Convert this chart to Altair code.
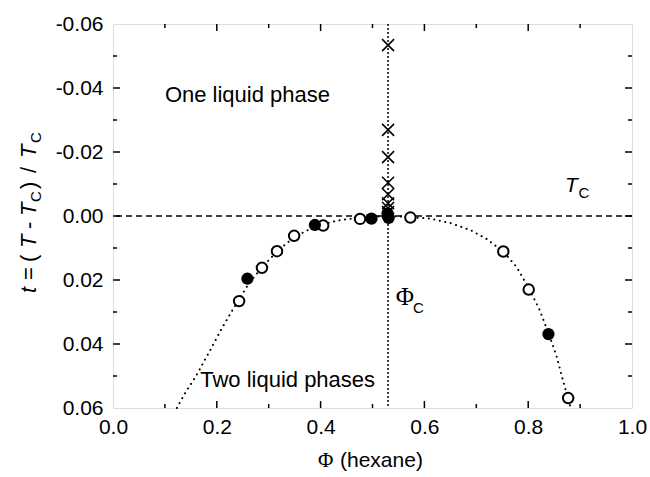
import altair as alt
import pandas as pd

# ---------------- data ----------------
cross_phi = [0.53, 0.53, 0.53, 0.53, 0.53, 0.53, 0.53, 0.53]
cross_t = [-0.0534, -0.0269, -0.0184, -0.0104, -0.0068, -0.0040, -0.0025, -0.0012]

open_phi = [0.243, 0.287, 0.316, 0.349, 0.405, 0.476, 0.573, 0.752, 0.801, 0.877]
open_t = [0.0266, 0.0162, 0.0110, 0.0062, 0.0030, 0.0009, 0.0005, 0.0111, 0.0230, 0.0569]

filled_phi = [0.259, 0.389, 0.498, 0.529, 0.530, 0.531, 0.839]
filled_t = [0.0196, 0.0028, 0.0008, -0.0008, 0.0000, 0.0006, 0.0369]

curve_phi = [0.123, 0.140, 0.160, 0.187, 0.210, 0.228, 0.245, 0.262, 0.290, 0.320,
             0.350, 0.390, 0.430, 0.470, 0.500, 0.530, 0.570, 0.610, 0.650, 0.690,
             0.720, 0.752, 0.778, 0.801, 0.821, 0.839, 0.855, 0.868, 0.882]
curve_t = [0.0600, 0.0550, 0.0500, 0.0420, 0.0350, 0.0300, 0.0255, 0.0210, 0.0155, 0.0105,
           0.0065, 0.0032, 0.0015, 0.0006, 0.0002, 0.0000, 0.0003, 0.0008, 0.0022, 0.0045,
           0.0072, 0.0111, 0.0160, 0.0225, 0.0290, 0.0365, 0.0440, 0.0520, 0.0600]

phi_c = [0.53]
t_zero = [0.0]

x_major = [0.2, 0.4, 0.6, 0.8]
x_minor = [0.1, 0.3, 0.5, 0.7, 0.9]
y_major = [-0.04, -0.02, 0.0, 0.02, 0.04]
y_minor = [-0.05, -0.03, -0.01, 0.01, 0.03, 0.05]
x_labels = [0.0, 0.2, 0.4, 0.6, 0.8, 1.0]
y_labels = [-0.06, -0.04, -0.02, 0.0, 0.02, 0.04, 0.06]

W, H = 519, 384
FONT = "Liberation Sans"
MAJ, MIN = 7, 4

xs = alt.Scale(domain=[0, 1], nice=False, zero=False)
ys = alt.Scale(domain=[-0.06, 0.06], nice=False, zero=False, reverse=True)

xax = alt.Axis(values=x_labels, format=".1f", tickSize=0, domain=False, grid=False,
               labelFontSize=21, labelFont=FONT, labelColor="black", labelPadding=8,
               labelFlush=False, labelOverlap=False, title=None)
yax = alt.Axis(values=y_labels, labelExpr="replace(format(datum.value, '.2f'), '\u2212', '-')",
               tickSize=0, domain=False, grid=False, labelFontSize=21, labelFont=FONT,
               labelColor="black", labelPadding=10, labelFlush=False, labelOverlap=False,
               title=None)

X = lambda f: alt.X(f, type="quantitative", scale=xs, axis=xax)
Y = lambda f: alt.Y(f, type="quantitative", scale=ys, axis=yax)

curve_df = pd.DataFrame({"phi": curve_phi, "t": curve_t, "i": list(range(len(curve_phi)))})
curve = alt.Chart(curve_df).mark_line(color="black", strokeWidth=2, strokeDash=[0.1, 5.5],
                                      strokeCap="round").encode(x=X("phi"), y=Y("t"), order="i:Q")

hline = alt.Chart(pd.DataFrame({"t": t_zero})).mark_rule(
    color="black", strokeWidth=1.5, strokeDash=[6, 4]).encode(y=Y("t"))
vline = alt.Chart(pd.DataFrame({"phi": phi_c})).mark_rule(
    color="black", strokeWidth=1.5, strokeDash=[2, 2]).encode(x=X("phi"))

crosses = alt.Chart(pd.DataFrame({"phi": cross_phi, "t": cross_t})).mark_point(
    shape="M-1,-1L1,1M-1,1L1,-1", size=144, strokeWidth=1.6, color="black", filled=False,
    opacity=1).encode(x=X("phi"), y=Y("t"))

opens = alt.Chart(pd.DataFrame({"phi": open_phi, "t": open_t})).mark_point(
    shape="circle", size=110, filled=True, fill="white", stroke="black", strokeWidth=2,
    opacity=1, fillOpacity=1).encode(x=X("phi"), y=Y("t"))

fills = alt.Chart(pd.DataFrame({"phi": filled_phi, "t": filled_t})).mark_point(
    shape="circle", size=150, filled=True, color="black", opacity=1).encode(x=X("phi"), y=Y("t"))

# inward ticks on four sides
xt = pd.DataFrame({"v": x_major + x_minor, "L": [MAJ] * len(x_major) + [MIN] * len(x_minor)})
yt = pd.DataFrame({"v": y_major + y_minor, "L": [MAJ] * len(y_major) + [MIN] * len(y_minor)})
xt["bot"] = H - xt["L"]
xt["top"] = xt["L"]
yt["left"] = yt["L"]
yt["right"] = W - yt["L"]

tick_style = dict(color="black", strokeWidth=1.5)
t_bot = alt.Chart(xt).mark_rule(**tick_style).encode(
    x=X("v"), y=alt.Y("bot:Q", scale=None), y2=alt.value(H))
t_top = alt.Chart(xt).mark_rule(**tick_style).encode(
    x=X("v"), y=alt.Y("top:Q", scale=None), y2=alt.value(0))
t_left = alt.Chart(yt).mark_rule(**tick_style).encode(
    y=Y("v"), x=alt.X("left:Q", scale=None), x2=alt.value(0))
t_right = alt.Chart(yt).mark_rule(**tick_style).encode(
    y=Y("v"), x=alt.X("right:Q", scale=None), x2=alt.value(W))

# annotations inside plot
def txt(text, phi, t, size=22, font=FONT, style="normal", align="left"):
    return alt.Chart(pd.DataFrame({"phi": [phi], "t": [t], "s": [text]})).mark_text(
        fontSize=size, font=font, fontStyle=style, align=align, baseline="alphabetic",
        color="black").encode(x=X("phi"), y=Y("t"), text="s:N")

ann = [
    txt("One liquid phase", 0.100, -0.0356),
    txt("Two liquid phases", 0.168, 0.0533),
    txt("T", 0.871, -0.0075, size=21, style="italic"),
    txt("C", 0.897, -0.0056, size=15),
    txt("\u03a6", 0.545, 0.0278, size=25, font="Liberation Serif"),
    txt("C", 0.578, 0.0303, size=15),
]

# x axis title (pixel layout)
def ptxt(text, px, py, size=21, font=FONT, style="normal", angle=0, align="left"):
    return alt.Chart(pd.DataFrame({"s": [text]})).mark_text(
        fontSize=size, font=font, fontStyle=style, align=align, baseline="alphabetic",
        angle=angle, color="black").encode(x=alt.value(px), y=alt.value(py), text="s:N")

titles = [
    ptxt("\u03a6", 205, 443, font="Liberation Serif"),
    ptxt("(hexane)", 227, 443),
]
# y axis title pieces, rotated
bx, sx = -77, -72
ytitle = [
    ("t", bx, 269, 22, "italic"),
    ("=", bx, 256, 22, "normal"),
    ("(", bx, 238, 22, "normal"),
    ("T", bx, 224, 22, "italic"),
    ("-", bx, 205, 22, "normal"),
    ("T", bx, 192, 22, "italic"),
    ("C", sx, 178, 15, "normal"),
    (")", bx, 165, 22, "normal"),
    ("/", bx, 149, 22, "normal"),
    ("T", bx, 134, 22, "italic"),
    ("C", sx, 119, 15, "normal"),
]
for s, px, py, sz, st in ytitle:
    titles.append(ptxt(s, px, py, size=sz, style=st, angle=270))

chart = alt.layer(hline, vline, curve, t_bot, t_top, t_left, t_right,
                  crosses, opens, fills, *ann, *titles).properties(
    width=W, height=H, autosize="none",
    padding={"left": 113, "top": 24, "right": 18, "bottom": 69},
).configure_view(stroke="black", strokeWidth=2).configure(font=FONT, background="white")

chart.save("out.html", embed_options={"renderer": "svg", "actions": False})
